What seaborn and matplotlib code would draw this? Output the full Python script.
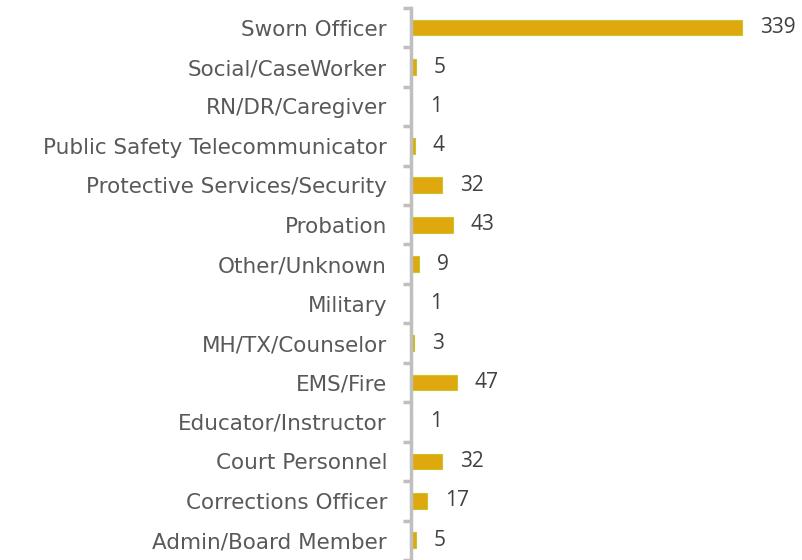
import seaborn as sns
import matplotlib.pyplot as plt
import numpy as np
import pandas as pd

# categories, top to bottom as shown
roles = ["Sworn Officer", "Social/CaseWorker", "RN/DR/Caregiver",
         "Public Safety Telecommunicator", "Protective Services/Security",
         "Probation", "Other/Unknown", "Military", "MH/TX/Counselor",
         "EMS/Fire", "Educator/Instructor", "Court Personnel",
         "Corrections Officer", "Admin/Board Member"]
counts = [339, 5, 1, 4, 32, 43, 9, 1, 3, 47, 1, 32, 17, 5]

df = pd.DataFrame({"role": roles, "count": counts})

sns.set_style("white")
plt.rcParams['font.family'] = ['DejaVu Sans']

fig = plt.figure(figsize=(8.02, 5.60), dpi=100)
ax = fig.add_axes([0.512, 0.0, 0.488, 0.986])

sns.barplot(data=df, x="count", y="role", order=roles, orient="h",
            color="#DFA80E", edgecolor="#C9C62A", linewidth=0.8,
            width=0.4, saturation=1, ax=ax)

ax.set_xlim(0, 400)
ax.set_ylim(len(roles) - 0.5, -0.5)

# value labels next to each bar
ax.bar_label(ax.containers[0], labels=[str(c) for c in counts], padding=13,
             fontsize=15, color="#404040", family="Open Sans")

# tidy up spines, Excel-style ticks between categories
for s in ["top", "right", "bottom"]:
    ax.spines[s].set_visible(False)
ax.spines["left"].set_color("#BFBFBF")
ax.spines["left"].set_linewidth(2.5)
ax.set_xticks([])
ax.set_xlabel("")
ax.set_ylabel("")
ax.tick_params(axis="y", which="major", left=False, length=0, pad=17,
               labelsize=15.5, labelcolor="#595959")
ax.set_yticks(np.arange(-0.5, len(roles) + 0.5, 1), minor=True)
ax.tick_params(axis="y", which="minor", left=True, length=6, width=2.5,
               color="#BFBFBF", direction="out")

fig.savefig("out.png", dpi=100)
